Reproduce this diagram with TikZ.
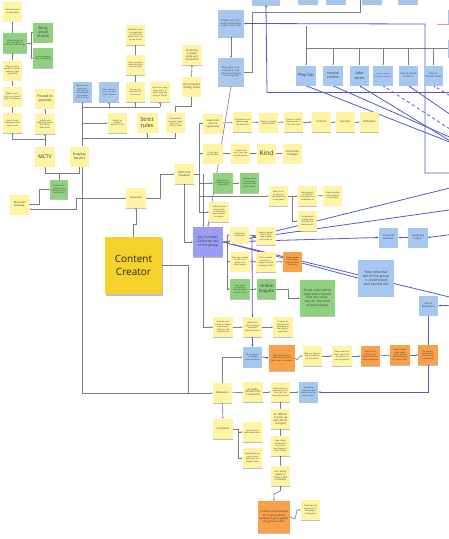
\documentclass[tikz,border=0pt]{standalone}
\usepackage{fontspec}
\setmainfont{Open Sans}
\usetikzlibrary{arrows.meta,shadows,calc}
\pgfdeclarelayer{bg}
\pgfsetlayers{bg,main}
\definecolor{noteY}{HTML}{FFF4A3}
\definecolor{noteB}{HTML}{A6C8F0}
\definecolor{noteG}{HTML}{8FD17E}
\definecolor{noteO}{HTML}{F9A04B}
\definecolor{noteP}{HTML}{9C9EF5}
\definecolor{ccY}{HTML}{F5D22B}
\definecolor{lineG}{HTML}{7C7C7C}
\definecolor{lineB}{HTML}{5559C9}
\definecolor{lineR}{HTML}{F29090}
\begin{document}
\begin{tikzpicture}[x=1pt,y=-1pt,
  tn/.style={rectangle, inner sep=0.5pt, align=center, text width=17pt, minimum width=19.5pt, minimum height=20pt,
    font=\fontsize{2}{2.4}\selectfont, text=black!80,
    drop shadow={shadow xshift=0.2pt, shadow yshift=-0.9pt, opacity=0.25, fill=black}},
  yn/.style={tn, fill=noteY},
  bn/.style={tn, fill=noteB},
  gn/.style={tn, fill=noteG},
  on/.style={tn, fill=noteO},
  pn/.style={tn, fill=noteP},
  ccnote/.style={rectangle, fill=ccY, minimum width=57pt, minimum height=57pt, align=center,
    font=\fontsize{10}{12.5}\selectfont, text=black!85,
    drop shadow={shadow xshift=0.5pt, shadow yshift=-1.5pt, opacity=0.25, fill=black}},
  gl/.style={draw=lineG, line width=0.6pt},
  ga/.style={gl, -{Stealth[length=1.8pt,width=1.7pt]}},
  bl/.style={draw=lineB, line width=0.8pt},
  ba/.style={bl, -{Stealth[length=2.2pt,width=2.1pt]}},
]
\useasboundingbox (0,0) rectangle (449,539);
\clip (0,0) rectangle (449,539);

% ---------------- left cluster
\node[yn] (top) at (12.5,11.5) {Not permission to ownership};
\node[gn, minimum width=24pt, text width=22pt] (g1) at (15,43) {Understands the time and effort it takes to create things};
\node[gn, font=\fontsize{3.4}{4}\selectfont] (gp) at (43,32.5) {Being proud of work};
\node[gn] (gc) at (43,58) {Creative expression, storytelling};
\node[yn] (l1) at (12.5,70.5) {Bring creative works to a wider audience, gain recognition};
\node[yn] (l2) at (12.5,96.5) {Right to tell a story and share it with an audience};
\node[yn] (l3) at (12.5,123) {Use of mods, machinima and tools to act};
\node[yn, font=\fontsize{3.4}{4}\selectfont] (yt) at (45,98.5) {Posted to youtube};
\node[yn] (r1) at (45,124) {Scripts and organized events are filmed like movies};
\node[yn, font=\fontsize{5}{6}\selectfont] (mctv) at (45,156.5) {MCTV};
\node[yn, font=\fontsize{3.3}{4}\selectfont] (rps) at (79.5,156.5) {Roleplay Servers};
\node[gn, minimum width=18pt, minimum height=19pt] (gm) at (59,189.5) {Shared storytelling and creating content with others};
\node[yn, font=\fontsize{2.5}{3}\selectfont] (mr) at (19.5,204.5) {Minecraft Roleplay};
\node[yn, font=\fontsize{2.5}{3}\selectfont] (mc) at (136,198) {Minecraft};
\node[ccnote] (cc) at (133.5,265.5) {Content\\Creator};

% ---------------- top middle
\node[bn] (b1) at (82.5,92) {Members are acting out and working cooperatively to progress with the team};
\node[bn] (b2) at (109,92) {Have community rules and code of ethics};
\node[yn] (y1) at (135.5,92) {Play as your character on the server};
\node[yn] (y2) at (135.5,65) {Have you been asked how you can role play?};
\node[yn] (y3) at (135.5,35) {Members have to understand the rules and expectations set by the server};
\node[yn] (y4) at (160,92) {Get here a long time, and it is hard to get the hang of things};
\node[yn] (ready) at (117.5,123) {Ready for a spawn, game, a rank};
\node[yn, font=\fontsize{5.5}{6.5}\selectfont, minimum width=21pt] (strict) at (147,122.5) {Strict rules};
\node[yn] (gr) at (175.5,122.5) {Grounds for removal: breaking rules results in a ban};
\node[yn, font=\fontsize{2.8}{3.3}\selectfont] (vp) at (191.5,86.5) {Very popular during covid};
\node[yn, font=\fontsize{2.6}{3.1}\selectfont] (dec) at (192,55) {Declining in popularity and interaction};
\node[bn, minimum width=26pt, minimum height=27pt, text width=23pt, font=\fontsize{2.3}{2.8}\selectfont] (ch) at (231,23.5) {Children are intrinsically motivated to acquire these skills};
\node[bn, minimum width=26pt, minimum height=28pt, text width=23pt, font=\fontsize{2.3}{2.8}\selectfont] (tw) at (231,72) {They want to be included in playground continuing the fun going};

% ---------------- top right
\node[bn, minimum width=28pt] (s1) at (266,-5) {};
\node[bn] (s2) at (308,-6) {};
\node[bn] (s3) at (336,-6) {};
\node[bn] (s4) at (372,-6) {};
\node[bn] (s5) at (408,-6) {};
\node[bn, minimum height=13pt] (s6) at (458,16.5) {};
\node[bn, minimum height=17pt] (s7) at (458,48.5) {};
\node[bn, font=\fontsize{4.2}{5}\selectfont] (pf) at (306,75.5) {Play fair};
\node[bn, font=\fontsize{3.5}{4.2}\selectfont] (rc) at (333,75.5) {resolve conflict};
\node[bn, font=\fontsize{3.8}{4.6}\selectfont] (tt) at (359.5,75.5) {take turns};
\node[bn, font=\fontsize{1.8}{2.2}\selectfont] (hs) at (383,75.5) {How to resolve problem situations};
\node[bn, font=\fontsize{2.4}{2.9}\selectfont] (he) at (408.5,75.5) {How to handle emotions};
\node[bn, font=\fontsize{2.4}{2.9}\selectfont] (ht) at (433.5,75.5) {How to tolerate losses};

% ---------------- rows A, B
\node[yn, font=\fontsize{2.4}{2.9}\selectfont] (a1) at (213,123.5) {Make them feel the opportunity};
\node[yn] (a2) at (242.5,122) {Experience and explore negative emotions};
\node[yn] (a3) at (268.5,122.5) {Need to navigate conversations};
\node[yn] (a4) at (293.5,122) {Content is what they've seen in their own lives};
\node[yn, font=\fontsize{2.6}{3}\selectfont] (a5) at (321.5,122) {Content};
\node[yn, font=\fontsize{2.6}{3}\selectfont] (a6) at (345.5,122) {Curation};
\node[yn, font=\fontsize{2.6}{3}\selectfont] (a7) at (369.5,122) {Reflection};
\node[yn] (bb1) at (213,153.5) {In the right environment};
\node[yn] (bb2) at (240.5,153.5) {Content can vary, there can be safe spaces};
\node[yn, font=\fontsize{6.5}{7.5}\selectfont] (kind) at (266.5,153.5) {Kind};
\node[yn, font=\fontsize{2.4}{2.9}\selectfont] (bb4) at (292.5,153.5) {Emotionally intelligent};

% ---------------- Minecraft situation cluster
\node[yn, font=\fontsize{2.8}{3.3}\selectfont] (ms) at (184.5,174) {Minecraft Situation};
\node[gn] (g3) at (223,183) {What are examples of good citizenship?};
\node[gn] (g4) at (249.5,183) {Helping others and sharing the space with other players};
\node[yn] (d1) at (278.5,196) {Open to improvement and advancing in the game};
\node[yn] (d2) at (307.5,196) {Having goals to work on and projects to collaborate on};
\node[yn] (d3) at (332.5,195.5) {Understanding one's progress in the game};
\node[yn] (d4) at (307.5,221) {Commitment: spends time and effort in development};
\node[yn] (yn1) at (219,212) {Learning from others how to build and work together in a group};

% ---------------- key concept
\node[pn, minimum width=30pt, minimum height=30pt, text width=27pt, font=\fontsize{3.4}{4.1}\selectfont] (kc) at (208,242) {Key Concept: Collective will of the group};
\node[yn, minimum height=17pt] (k1) at (239.5,235) {Forgiveness is essential};
\node[yn, minimum height=18pt] (k2) at (266,236) {Need to accept others' feelings, forgive and move on};
\node[yn] (k3) at (240,261.5) {Ways we manage conflict as a group and show respect};
\node[yn] (k4) at (266,262) {Try to ensure everyone is happy, to avoid causing conflict};
\node[on] (ko) at (292.5,261.5) {Some people hold grudges, and this hurts the group};
\node[gn] (kg) at (240,289) {Easy ways to create a friendly space: include others};
\node[gn, font=\fontsize{4.2}{5}\selectfont] (oe) at (266.5,289) {Online Etiquite};
\node[gn, minimum width=35pt, minimum height=36pt, text width=32pt, font=\fontsize{3.1}{3.8}\selectfont] (so) at (317.5,298) {Social order within open world spaces that are necessary for the order of Adult spaces};
\node[bn, font=\fontsize{2.5}{3}\selectfont] (ub) at (388.5,237.5) {Unwanted Behavior};
\node[bn, font=\fontsize{2.5}{3}\selectfont] (nd) at (418,237.5) {Navigating Danger};
\node[bn, minimum width=36pt, minimum height=36pt, text width=32pt, font=\fontsize{3.4}{4.1}\selectfont] (hc) at (376,278) {How collective will of the group is understood and carried out};
\node[bn, font=\fontsize{2.4}{2.9}\selectfont] (rm) at (428.5,305.5) {Role of Moderators};

% ---------------- rows E, F
\node[yn] (e1) at (223,327) {How do your beliefs or values impact your behavior and interactions?};
\node[yn] (e2) at (252.5,327) {Beliefs and values change as players grow and learn};
\node[yn] (e3) at (283,327) {A sense of fairness and belonging in the group is important};
\node[bn] (f1) at (252.5,357) {Mr company's messages over the world};
\node[on, minimum width=26pt, minimum height=26pt, text width=23pt] (f2) at (282,358) {Why does it seem like the rules of the server are inconsistent?};
\node[yn] (f3) at (312.5,356) {Why are there so many problems on the server?};
\node[yn] (f4) at (342,356) {What rules are most helpful for the server to run fair games?};
\node[on] (f5) at (370.5,356) {What if they didn't exist? Would there be more problems?};
\node[on] (f6) at (400,355) {What if there were fewer rules? Would the balance of the game shift?};
\node[on] (f7) at (428,355) {Do players need to earn the privilege to moderate?};

% ---------------- moderators
\node[yn, font=\fontsize{2.4}{2.9}\selectfont] (mod) at (222.5,393) {Moderators};
\node[yn, font=\fontsize{2.4}{2.9}\selectfont] (g2n) at (253,392) {Incredibly difficult to be a moderator};
\node[yn] (g3n) at (280.5,392) {Need a team to moderate, since they can't be there all the time};
\node[bn] (rec) at (308.5,392) {Recording behaviour and evidence as the only solution};
\node[yn, font=\fontsize{2.6}{3.1}\selectfont] (v1) at (280.5,419) {It's difficult to keep up with what's changing};
\node[yn] (v2) at (280.5,446) {New tough moderators are stricter and biased to their friends};
\node[yn, font=\fontsize{2.4}{2.9}\selectfont] (v3) at (280.5,476) {AI is being used but there is still a problem};
\node[on, minimum width=32pt, minimum height=32pt, text width=29pt, font=\fontsize{2.6}{3.2}\selectfont] (vo) at (274,517) {Is there more demand for creative liberty because it goes against the game's rules?};
\node[yn] (vy) at (310.5,510) {Creativity and expression of the players in the game};
\node[yn, font=\fontsize{2.4}{2.9}\selectfont] (comp) at (223,429) {Complaints};
\node[yn] (c1) at (252.5,432) {Inconsistency with moderators};
\node[yn] (c2) at (252.5,458) {Moderators are out of touch with what the players want};

\begin{pgfonlayer}{bg}
% left cluster
\draw[ga] (g1.north) -- (g1.north -| top.south) -- (top.south);
\draw[ga] (g1.east) -- ++(4,0) |- (gp.west);
\draw[ga] (g1.east) -- ++(4,0) |- (gc.west);
\draw[ga] (l1.north) -- (l1.north |- g1.south);
\draw[ga] (l2.north) -- (l1.south);
\draw[ga] (l3.north) -- (l2.south);
\draw[ga] (r1.north) -- (yt.south);
\draw[ga] (mctv.north) -- (r1.south);
\draw[ga] (45,139) -| (l3.south);
\draw[gl] (gm.north) -- (59,173);
\draw[ga] (59,173) -| (mctv.south);
\draw[ga] (59,173) -| (rps.south);
\draw[ga] (mr.east) -- (39,204.5) |- (gm.west);
\draw[ga] (mc.west) -- (76,198) |- ($(mr.east)+(0,4.5)$);
\draw[ga] (mc.east) -- (160,198) |- (ms.west);
\draw[ga] (cc.north) -- (133.5,224) -| (mc.south);
\draw[ga] ($(rps.south)+(2.5,0)$) -- (82,393) -- (mod.west);
\draw[gl] (cc.east) -- (188,265.5) -- (188,393);
\draw[gl] ($(rps.north)+(2.5,0)$) -- (82,107) -- (160,107);
\draw[ga] (82.5,107) -- (b1.south);
\draw[ga] (109,107) -- (b2.south);
\draw[ga] (135.5,107) -- (y1.south);
\draw[ga] (160,107) -- (y4.south);
\draw[ga] (82,123) -- (ready.west);
\draw[gl] (82,138) -- (175.5,138);
\draw[ga] (147,138) -- (strict.south);
\draw[ga] (175.5,138) -- (gr.south);
\draw[ga] (y1.north) -- (y2.south);
\draw[ga] (y2.north) -- (y3.south);
\draw[ga] (gr.north) -- (175.5,106) -| (vp.south);
\draw[ga] (vp.north) -- (dec.south);
\draw[ga] (ch.south) -- (tw.north);
\draw[ga] (tw.east) -- (252,72) -- (252,12) -- (360,12) -- (360,-2);
\draw[ga] (tw.south) -- (kc.north);
% top right grey
\draw[ga] (306,26) -- (pf.north);
\draw[gl] (306,48) -- (460,48);
\draw[ga] (333,48) -- (rc.north);
\draw[ga] (359.5,48) -- (tt.north);
\draw[ga] (383,48) -- (hs.north);
\draw[ga] (408.5,48) -- (he.north);
\draw[ga] (433.5,48) -- (ht.north);
% blue structure
\draw[ba] (460,173) -- (425,173) -- (425,24) -- (ch.east);
\draw[draw=lineR, line width=0.7pt] (437,24) -- (460,24);
\draw[ba] (460,92.5) -- (267,92.5) -- (s1.south);
\draw[ba] (470,150) -- (pf.south);
\draw[ba] (470,146) -- (rc.south);
\draw[ba] (470,153) -- (tt.south);
\draw[ba, dashed] (470,142) -- (hs.south);
\draw[ba] (470,128) -- (he.south);
\draw[ba, dashed] (470,108) -- (ht.south);
\draw[bl] (kc.east) -- (470,207);
\draw[ba] (kc.east) -- (ub.west);
\draw[ba] (kc.east) -- (hc.west);
\draw[bl] (kc.east) -- (470,302);
\draw[bl] (470,183) -- (252,237);
\draw[ba] (252,237) -- (f1.north);
\draw[ba] (470,232) -- (nd.east);
\draw[ba] (nd.west) -- (ub.east);
\draw[ba] (470,306) -- (rm.east);
\draw[ba] (rm.south) -- (428.5,392) -- (rec.east);
\draw[ba] (f1.east) -- (f2.west);
% Minecraft situation bracket
\draw[gl] (ms.east) -- (199,174);
\draw[gl] (199,123.5) -- (199,212);
\draw[ga] (199,123.5) -- (a1.west);
\draw[ga] (199,153.5) -- (bb1.west);
\draw[ga] (199,183) -- (g3.west);
\draw[ga] (199,196) -- (d1.west);
\draw[ga] (199,212) -- (yn1.west);
\draw[ga] (203,174) -- (203,327) -- (e1.west);
\draw[ga] (ms.south) -- (184.5,242) -- (kc.west);
% rows
\draw[ga] (a1) -- (a2); \draw[ga] (a2) -- (a3); \draw[ga] (a3) -- (a4);
\draw[ga] (a4) -- (a5); \draw[ga] (a5) -- (a6); \draw[ga] (a6) -- (a7);
\draw[ga] (bb1) -- (bb2); \draw[ga] (bb2) -- (kind); \draw[ga] (kind) -- (bb4);
\draw[ga] (g3) -- (g4);
\draw[ga] (d1) -- (d2); \draw[ga] (d2) -- (d3);
\draw[ga] (d1.east) -- (292,196) |- (d4.west);
\draw[gl] (kc.east) -- (227,242);
\draw[gl] (227,235) -- (227,289);
\draw[ga] (227,235) -- (k1.west);
\draw[ga] (227,261.5) -- (k3.west);
\draw[ga] (227,289) -- (kg.west);
\draw[ga] (k1) -- (k2); \draw[ga] (k3) -- (k4); \draw[ga] (k4) -- (ko);
\draw[ga] (kg) -- (oe);
\draw[ga] (oe.east) -- (288,289) |- (so.west);
\draw[ga] (e1) -- (e2); \draw[ga] (e2) -- (e3);
\draw[ga] (mod.north) |- (f1.west);
\draw[ga] (f2.east) -- (297,360) -- (300,356) -- (f3.west);
\draw[ga] (f3) -- (f4); \draw[ga] (f4) -- (f5); \draw[ga] (f5) -- (f6); \draw[ga] (f6) -- (f7);
\draw[ga] (mod) -- (g2n); \draw[ga] (g2n) -- (g3n); \draw[ga] (g3n) -- (rec);
\draw[ga] (g3n) -- (v1); \draw[ga] (v1) -- (v2); \draw[ga] (v2) -- (v3);
\draw[ga] (v3.south) -- (280.5,491) -- (274,494) -- (vo.north);
\draw[ga] (vo.east) -- (295,519) -- (297,510) -- (vy.west);
\draw[ga] (mod) -- (comp);
\draw[ga] (comp.east) -- (238,429) |- (c1.west);
\draw[ga] (238,429) |- (c2.west);
\end{pgfonlayer}
\end{tikzpicture}
\end{document}
